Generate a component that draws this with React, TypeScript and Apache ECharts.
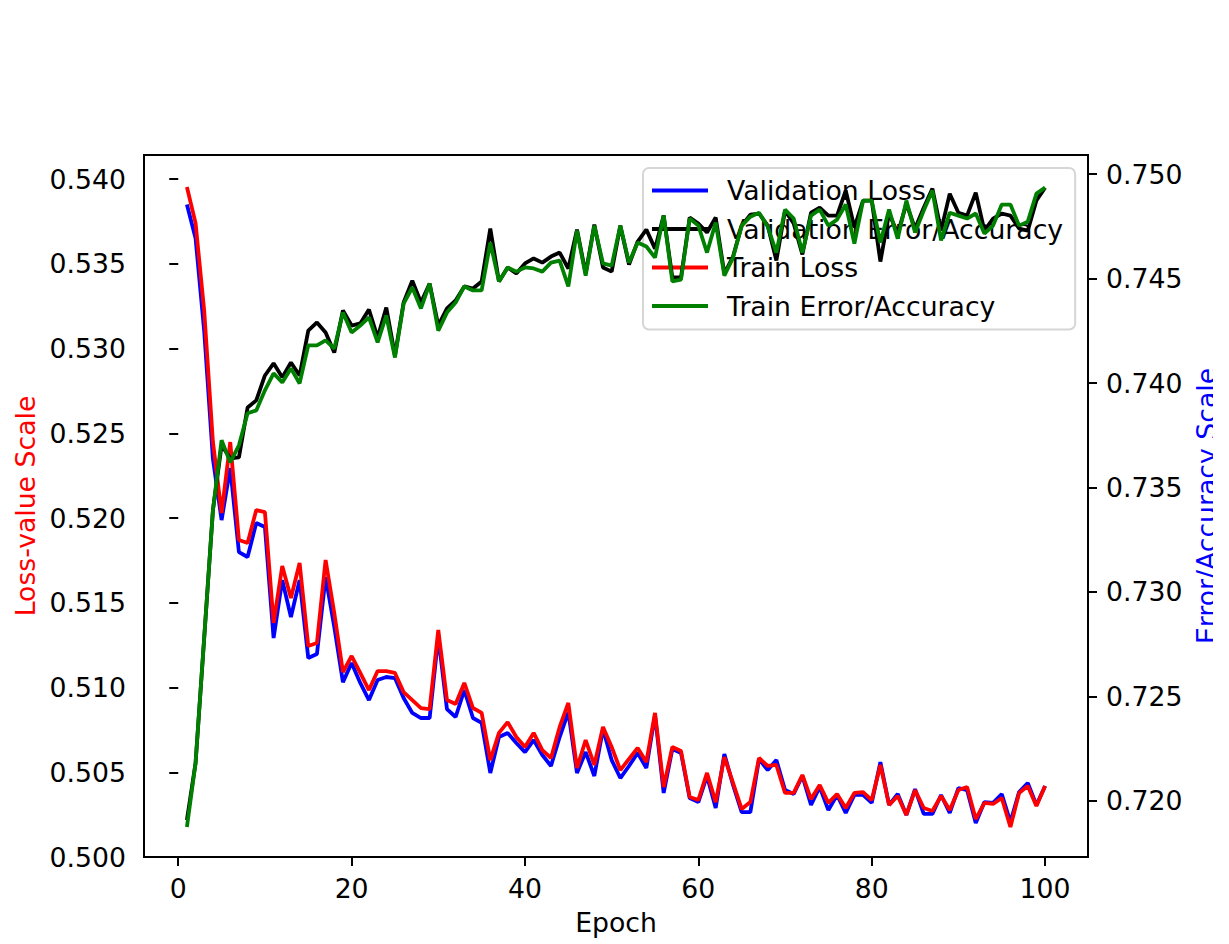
import React, { useEffect, useRef } from "react";
import * as echarts from "echarts";

const epochs: number[] = Array.from({ length: 100 }, (_, i) => i + 1);

const validationLoss: number[] = [
  0.53850, 0.53650, 0.53100, 0.52350, 0.51988, 0.52295, 0.51799, 0.51770, 0.51971, 0.51947,
  0.51292, 0.51634, 0.51416, 0.51634, 0.51174, 0.51198, 0.51652, 0.51357, 0.51032, 0.51145,
  0.51027, 0.50926, 0.51044, 0.51062, 0.51056, 0.50938, 0.50850, 0.50820, 0.50820, 0.51298,
  0.50873, 0.50826, 0.50985, 0.50820, 0.50791, 0.50496, 0.50708, 0.50732, 0.50673, 0.50619,
  0.50690, 0.50602, 0.50537, 0.50708, 0.50855, 0.50496, 0.50619, 0.50478, 0.50755, 0.50572,
  0.50466, 0.50537, 0.50614, 0.50525, 0.50838, 0.50378, 0.50637, 0.50614, 0.50348, 0.50324,
  0.50478, 0.50289, 0.50608, 0.50425, 0.50265, 0.50265, 0.50578, 0.50513, 0.50572, 0.50395,
  0.50372, 0.50478, 0.50307, 0.50413, 0.50277, 0.50366, 0.50260, 0.50366, 0.50366, 0.50319,
  0.50560, 0.50307, 0.50372, 0.50248, 0.50401, 0.50254, 0.50254, 0.50366, 0.50260, 0.50407,
  0.50395, 0.50201, 0.50324, 0.50319, 0.50372, 0.50206, 0.50383, 0.50437, 0.50307, 0.50419,
];

const trainLoss: number[] = [
  0.53953, 0.53740, 0.53220, 0.52450, 0.52029, 0.52448, 0.51870, 0.51853, 0.52047, 0.52035,
  0.51381, 0.51717, 0.51528, 0.51735, 0.51245, 0.51263, 0.51752, 0.51440, 0.51091, 0.51186,
  0.51086, 0.50985, 0.51097, 0.51097, 0.51086, 0.50973, 0.50926, 0.50879, 0.50873, 0.51339,
  0.50926, 0.50903, 0.51027, 0.50879, 0.50850, 0.50572, 0.50732, 0.50796, 0.50708, 0.50649,
  0.50732, 0.50631, 0.50584, 0.50767, 0.50909, 0.50525, 0.50690, 0.50543, 0.50767, 0.50649,
  0.50513, 0.50578, 0.50643, 0.50560, 0.50850, 0.50413, 0.50649, 0.50625, 0.50354, 0.50336,
  0.50496, 0.50324, 0.50590, 0.50437, 0.50283, 0.50324, 0.50584, 0.50537, 0.50543, 0.50378,
  0.50378, 0.50484, 0.50342, 0.50425, 0.50319, 0.50372, 0.50289, 0.50378, 0.50383, 0.50336,
  0.50543, 0.50307, 0.50360, 0.50248, 0.50395, 0.50289, 0.50271, 0.50360, 0.50277, 0.50395,
  0.50413, 0.50224, 0.50319, 0.50313, 0.50348, 0.50177, 0.50378, 0.50419, 0.50301, 0.50419,
];

const validationAccuracy: number[] = [
  0.71909, 0.72182, 0.72784, 0.73391, 0.73702, 0.73640, 0.73644, 0.73883, 0.73917, 0.74036,
  0.74094, 0.74027, 0.74098, 0.74036, 0.74251, 0.74290, 0.74242, 0.74146, 0.74347, 0.74275,
  0.74285, 0.74352, 0.74218, 0.74361, 0.74132, 0.74385, 0.74490, 0.74385, 0.74476, 0.74275,
  0.74357, 0.74395, 0.74462, 0.74452, 0.74486, 0.74739, 0.74486, 0.74553, 0.74524, 0.74572,
  0.74596, 0.74576, 0.74605, 0.74624, 0.74548, 0.74734, 0.74524, 0.74758, 0.74553, 0.74533,
  0.74753, 0.74567, 0.74677, 0.74734, 0.74643, 0.74801, 0.74505, 0.74505, 0.74792, 0.74763,
  0.74720, 0.74792, 0.74524, 0.74605, 0.74753, 0.74806, 0.74811, 0.74753, 0.74586, 0.74825,
  0.74763, 0.74615, 0.74815, 0.74839, 0.74801, 0.74801, 0.74921, 0.74744, 0.74873, 0.74873,
  0.74581, 0.74811, 0.74715, 0.74858, 0.74739, 0.74839, 0.74930, 0.74729, 0.74906, 0.74815,
  0.74801, 0.74911, 0.74729, 0.74787, 0.74811, 0.74801, 0.74739, 0.74729, 0.74873, 0.74935,
];

const trainAccuracy: number[] = [
  0.71876, 0.72182, 0.72784, 0.73391, 0.73726, 0.73620, 0.73702, 0.73855, 0.73869, 0.73965,
  0.74046, 0.74003, 0.74070, 0.73998, 0.74180, 0.74180, 0.74204, 0.74165, 0.74337, 0.74242,
  0.74275, 0.74314, 0.74194, 0.74323, 0.74122, 0.74380, 0.74457, 0.74357, 0.74476, 0.74251,
  0.74337, 0.74385, 0.74462, 0.74443, 0.74443, 0.74672, 0.74486, 0.74553, 0.74533, 0.74553,
  0.74548, 0.74533, 0.74576, 0.74586, 0.74462, 0.74729, 0.74514, 0.74753, 0.74572, 0.74562,
  0.74753, 0.74576, 0.74672, 0.74653, 0.74600, 0.74801, 0.74486, 0.74495, 0.74787, 0.74753,
  0.74624, 0.74768, 0.74514, 0.74600, 0.74753, 0.74796, 0.74815, 0.74749, 0.74624, 0.74830,
  0.74787, 0.74624, 0.74801, 0.74830, 0.74753, 0.74782, 0.74854, 0.74667, 0.74873, 0.74873,
  0.74672, 0.74830, 0.74691, 0.74873, 0.74720, 0.74825, 0.74921, 0.74682, 0.74815, 0.74801,
  0.74787, 0.74811, 0.74715, 0.74753, 0.74854, 0.74854, 0.74753, 0.74772, 0.74906, 0.74935,
];

const xTicks: number[] = [0, 20, 40, 60, 80, 100];
const lossTicks: number[] = [0.5, 0.505, 0.51, 0.515, 0.52, 0.525, 0.53, 0.535, 0.54];
const accTicks: number[] = [0.72, 0.725, 0.73, 0.735, 0.74, 0.745, 0.75];

const FONT = "DejaVu Sans";
const FS = 26.7;

export default function App() {
  const ref = useRef<HTMLDivElement>(null);

  useEffect(() => {
    if (!ref.current) return;
    const chart = echarts.init(ref.current, undefined, { renderer: "svg" });
    const pair = (vals: number[]) => epochs.map((e, i) => [e, vals[i]]);
    const lineW = 3.8;

    const tickStyle = { show: true, inside: false, length: 9, lineStyle: { color: "#000", width: 2 } };

    chart.setOption({
      animation: false,
      backgroundColor: "#ffffff",
      textStyle: { fontFamily: FONT },
      grid: {
        left: 144,
        right: 141,
        top: 155,
        bottom: 87,
        show: true,
        borderColor: "#000",
        borderWidth: 2,
        backgroundColor: "transparent",
        containLabel: false,
      },
      legend: {
        orient: "vertical",
        left: 643,
        top: 168,
        z: 1,
        data: ["Validation Loss", "Validation Error/Accuracy", "Train Loss", "Train Error/Accuracy"],
        icon: "rect",
        itemWidth: 56,
        itemHeight: 4,
        itemGap: 11.5,
        padding: [9, 12, 10, 9],
        backgroundColor: "rgba(255,255,255,0.8)",
        borderColor: "#d6d6d6",
        borderWidth: 2,
        borderRadius: 6,
        selectedMode: false,
        textStyle: {
          fontFamily: FONT,
          fontSize: FS,
          color: "#000",
          lineHeight: 26,
          padding: [0, 0, 0, 14],
        },
      },
      xAxis: {
        type: "value",
        min: -3.95,
        max: 104.95,
        name: "Epoch",
        nameLocation: "middle",
        nameGap: 52,
        nameTextStyle: { fontFamily: FONT, fontSize: FS, color: "#000" },
        axisLine: { show: false },
        axisTick: { ...tickStyle, customValues: xTicks },
        axisLabel: {
          customValues: xTicks,
          margin: 18,
          fontFamily: FONT,
          fontSize: FS,
          color: "#000",
        },
        splitLine: { show: false },
      },
      yAxis: [
        {
          type: "value",
          min: 0.5,
          max: 0.54142,
          position: "left",
          name: "Loss-value Scale",
          nameLocation: "middle",
          nameRotate: 90,
          nameGap: 102,
          nameTextStyle: { fontFamily: FONT, fontSize: FS, color: "#ff0000" },
          axisLine: { show: false },
          axisTick: { ...tickStyle, customValues: lossTicks },
          axisLabel: {
            customValues: lossTicks,
            margin: 18,
            fontFamily: FONT,
            fontSize: FS,
            color: "#000",
            formatter: (v: number) => v.toFixed(3),
          },
          splitLine: { show: false },
        },
        {
          type: "value",
          min: 0.71732,
          max: 0.75091,
          position: "right",
          name: "Error/Accuracy Scale",
          nameLocation: "middle",
          nameRotate: 90,
          nameGap: 98,
          nameTextStyle: { fontFamily: FONT, fontSize: FS, color: "#0000ff" },
          axisLine: { show: false },
          axisTick: { ...tickStyle, customValues: accTicks },
          axisLabel: {
            customValues: accTicks,
            margin: 18,
            fontFamily: FONT,
            fontSize: FS,
            color: "#000",
            formatter: (v: number) => v.toFixed(3),
          },
          splitLine: { show: false },
        },
      ],
      series: [
        {
          name: "Validation Loss",
          type: "line",
          yAxisIndex: 0,
          data: pair(validationLoss),
          symbol: "none",
          z: 2,
          lineStyle: { color: "#0000ff", width: lineW },
          itemStyle: { color: "#0000ff" },
        },
        {
          name: "Train Loss",
          type: "line",
          yAxisIndex: 0,
          data: pair(trainLoss),
          symbol: "none",
          z: 2,
          lineStyle: { color: "#ff0000", width: lineW },
          itemStyle: { color: "#ff0000" },
        },
        {
          name: "Validation Error/Accuracy",
          type: "line",
          yAxisIndex: 1,
          data: pair(validationAccuracy),
          symbol: "none",
          z: 3,
          lineStyle: { color: "#000000", width: lineW },
          itemStyle: { color: "#000000" },
        },
        {
          name: "Train Error/Accuracy",
          type: "line",
          yAxisIndex: 1,
          data: pair(trainAccuracy),
          symbol: "none",
          z: 3,
          lineStyle: { color: "#008000", width: lineW },
          itemStyle: { color: "#008000" },
        },
      ],
      graphic: [
        {
          type: "rect",
          z: 100,
          shape: { x: 1213, y: 0, width: 16, height: 944 },
          style: { fill: "#ffffff" },
        },
      ],
    });

    return () => chart.dispose();
  }, []);

  return (
    <div
      ref={ref}
      style={{ position: "fixed", left: 0, top: 0, width: 1229, height: 944, background: "#fff" }}
    />
  );
}
